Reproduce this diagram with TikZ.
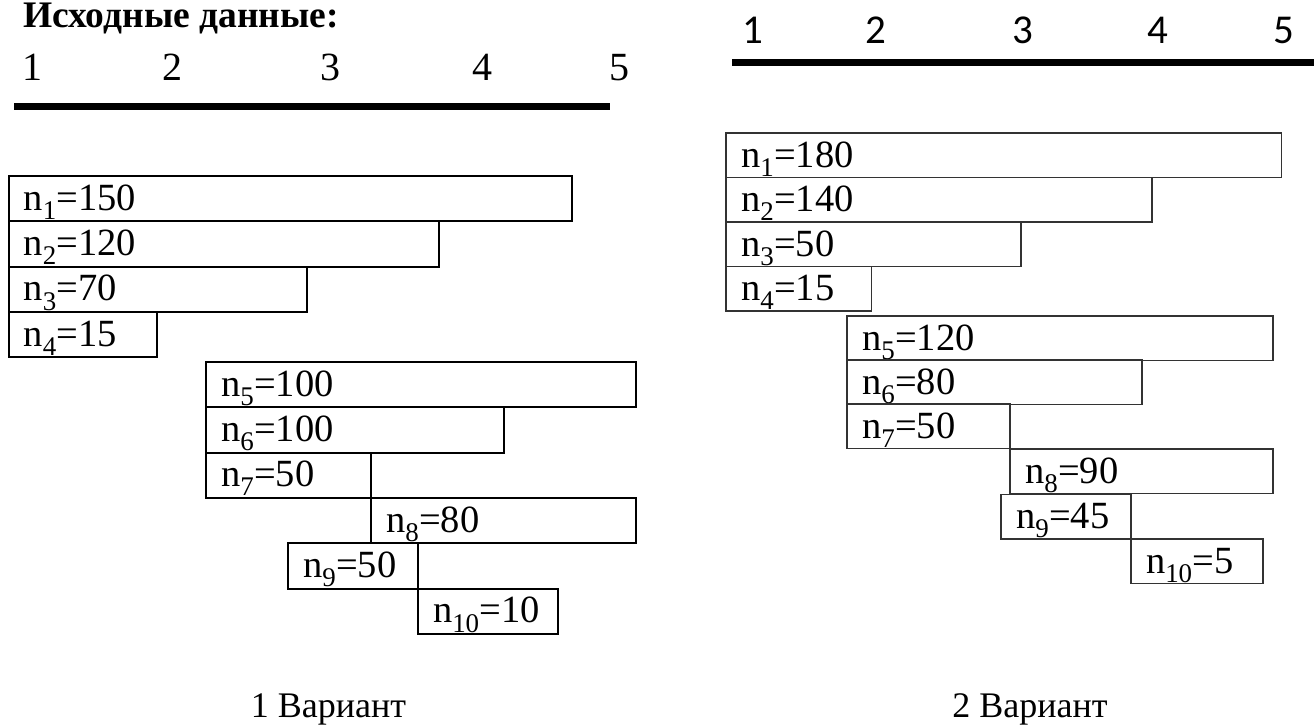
\documentclass[tikz,border=0pt]{standalone}
\usepackage{fontspec}
\setmainfont{Liberation Serif}
\newfontfamily\calibri{Carlito}

\begin{document}
\begin{tikzpicture}[x=1pt,y=-1pt]
\tikzset{stroka/.style={draw, line width=2pt, rectangle, anchor=north west, outer sep=0pt, inner xsep=15pt, inner ysep=0pt, minimum height=45.3pt, text height=28pt, text depth=5pt, align=left, font=\fontsize{38.5}{40}\selectfont}}
\tikzset{strokb/.style={stroka, line width=1.3pt, draw=black!80, minimum height=44.5pt, text height=28.5pt}}
\tikzset{cifra/.style={anchor=base, inner sep=0pt, font=\fontsize{40}{44}\selectfont}}
\tikzset{cifrb/.style={anchor=base, inner sep=0pt, font=\calibri\fontsize{41}{44}\selectfont}}
\tikzset{podpis/.style={anchor=base, inner sep=0pt, font=\fontsize{36}{40}\selectfont}}
\useasboundingbox (0,0) rectangle (1314,724);
\node[anchor=base west, inner sep=0pt, font=\fontsize{37.5}{40}\selectfont\bfseries] (zag) at (23,27) {Исходные данные:};
\node[cifra] (LN1) at (33,80) {1};
\node[cifra] (LN2) at (172,80) {2};
\node[cifra] (LN3) at (330,80) {3};
\node[cifra] (LN4) at (482,80) {4};
\node[cifra] (LN5) at (619,80) {5};
\draw[line width=7pt] (14,106.5) -- (610,106.5);
\node[stroka, text width=533pt] (L1) at (8.5,176) {n\textsubscript{1}=150};
\node[stroka, text width=400.5pt] (L2) at (8.5,221.3) {n\textsubscript{2}=120};
\node[stroka, text width=268.5pt] (L3) at (8.5,266.6) {n\textsubscript{3}=70};
\node[stroka, text width=118pt] (L4) at (8.5,311.9) {n\textsubscript{4}=15};
\node[stroka, text width=399.5pt] (L5) at (206,362) {n\textsubscript{5}=100};
\node[stroka, text width=268pt] (L6) at (206,407.3) {n\textsubscript{6}=100};
\node[stroka, text width=135pt] (L7) at (206,452.6) {n\textsubscript{7}=50};
\node[stroka, text width=234.5pt] (L8) at (371,497.9) {n\textsubscript{8}=80};
\node[stroka, text width=100pt] (L9) at (288,543.2) {n\textsubscript{9}=50};
\node[stroka, text width=110pt] (L10) at (418,588.5) {n\textsubscript{10}=10};
\node[podpis] (VarL) at (328.5,717) {1 Вариант};
\node[cifrb] (RN1) at (752.5,43) {1};
\node[cifrb] (RN2) at (876,43) {2};
\node[cifrb] (RN3) at (1022.5,43) {3};
\node[cifrb] (RN4) at (1158,43) {4};
\node[cifrb] (RN5) at (1284,43) {5};
\draw[line width=7pt] (732,62.5) -- (1314,62.5);
\node[strokb, text width=525.5pt] (R1) at (726,133) {n\textsubscript{1}=180};
\node[strokb, text width=396pt] (R2) at (726,177.5) {n\textsubscript{2}=140};
\node[strokb, text width=265pt] (R3) at (726,222) {n\textsubscript{3}=50};
\node[strokb, text width=115.5pt] (R4) at (726,266.5) {n\textsubscript{4}=15};
\node[strokb, text width=396pt] (R5) at (847,316) {n\textsubscript{5}=120};
\node[strokb, text width=265pt] (R6) at (847,360) {n\textsubscript{6}=80};
\node[strokb, text width=133pt] (R7) at (847,404) {n\textsubscript{7}=50};
\node[strokb, text width=233pt] (R8) at (1010,449) {n\textsubscript{8}=90};
\node[strokb, text width=100pt] (R9) at (1001,494.5) {n\textsubscript{9}=45};
\node[strokb, text width=102pt] (R10) at (1131,539) {n\textsubscript{10}=5};
\node[podpis] (VarR) at (1030,717) {2 Вариант};
\end{tikzpicture}
\end{document}
